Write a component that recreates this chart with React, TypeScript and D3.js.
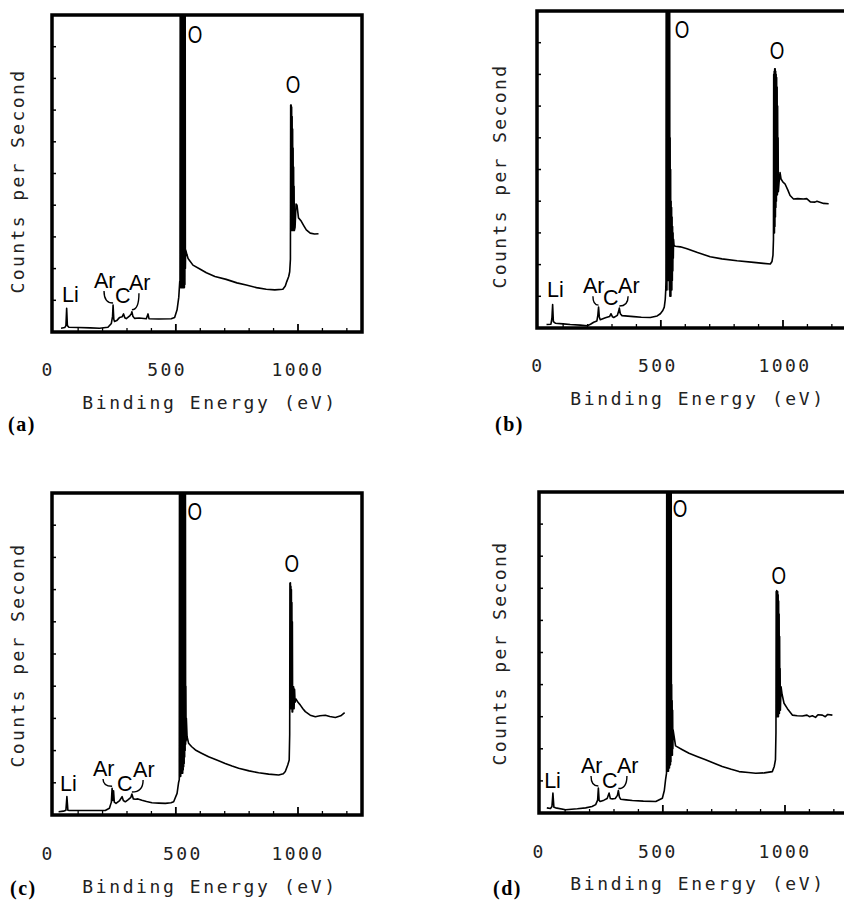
import React from 'react';
import * as d3 from 'd3';

type Pt = [number, number];
type Note = { text: string; ev: number; val: number; peak?: number };

// axis text
const tickTexts = ['0', '500', '1000'];
const xTitle = 'Binding Energy (eV)';
const yTitle = 'Counts per Second';
const panelLetters = ['(a)', '(b)', '(c)', '(d)'];
const minorTicks = [100, 200, 300, 400, 600, 700, 800, 900, 1100, 1200];
const majorTicks = [500, 1000];
const yTicks = [1, 2, 3, 4, 5, 6, 7, 8, 9];

// spectra: [binding energy eV, counts (0-10 of full scale)]
// the O peaks are saturated / noisy, so they are read as dense up-down samples
const spectrumA: Pt[] = [
  [30, 0.12], [45, 0.14], [50, 0.2], [53, 0.75], [56, 0.2], [62, 0.15], [100, 0.14], [150, 0.13],
  [188, 0.12], [222, 0.15], [236, 0.27], [241, 0.5], [243, 0.85], [246, 0.4], [249, 0.33], [258, 0.36],
  [270, 0.46], [280, 0.48], [286, 0.57], [291, 0.45], [297, 0.42], [310, 0.5], [318, 0.58], [320, 0.64],
  [324, 0.5], [331, 0.43], [350, 0.44], [379, 0.42], [386, 0.57], [390, 0.42], [430, 0.41], [481, 0.42],
  [495, 0.46], [505, 0.7], [512, 1.1], [516, 1.6],
  [517, 1.6], [518, 12], [519, 1.4], [520, 12], [521, 1.4], [522, 12], [523, 1.4], [524, 12],
  [525, 1.4], [526, 12], [527, 1.4], [528, 12], [529, 1.4], [530, 12], [531, 1.4], [532, 12],
  [533, 1.4], [534, 12], [535, 1.4], [536, 12], [537, 1.5], [538, 12], [539, 2.0], [540, 2.6],
  [545, 2.45], [550, 2.32], [570, 2.11], [600, 1.98], [625, 1.87], [660, 1.75], [706, 1.66], [750, 1.55],
  [788, 1.48], [830, 1.4], [870, 1.35], [905, 1.33], [938, 1.35], [948, 1.45], [954, 1.59], [962, 1.75],
  [966, 1.9], [969, 2.3], [970, 7.16], [971, 3.2], [972, 7.16], [973, 3.2], [974, 7.1], [975, 3.2],
  [976, 6.8], [977, 3.2], [978, 6.4], [979, 3.2], [980, 5.8], [981, 3.2], [982, 5.2], [983, 3.2],
  [984, 4.6], [985, 3.2], [988, 3.3], [992, 4.04], [996, 4.0], [1002, 3.6], [1013, 3.5], [1024, 3.35],
  [1034, 3.22], [1050, 3.12], [1068, 3.09], [1084, 3.1],
];

const spectrumB: Pt[] = [
  [32, 0.11], [50, 0.12], [54, 0.3], [57, 0.74], [60, 0.2], [68, 0.15], [100, 0.13], [129, 0.11],
  [170, 0.09], [198, 0.07], [212, 0.12], [225, 0.18], [238, 0.22], [242, 0.4], [245, 0.66], [248, 0.35],
  [252, 0.26], [273, 0.32], [290, 0.36], [296, 0.45], [302, 0.35], [307, 0.33], [322, 0.4], [328, 0.55],
  [330, 0.63], [334, 0.45], [341, 0.39], [389, 0.36], [420, 0.34], [457, 0.33], [485, 0.38], [498, 0.45],
  [508, 0.55], [514, 0.66], [518, 0.9], [520, 1.2],
  [521, 1.5], [522, 12], [523, 1.2], [524, 12], [525, 1.2], [526, 12], [527, 1.5], [528, 12],
  [529, 1.5], [530, 12], [531, 2.0], [532, 12], [533, 1.5], [534, 12], [535, 1.2], [536, 12],
  [537, 1.0], [538, 6], [539, 1.0], [540, 5], [541, 1.0], [542, 4], [543, 1.2], [544, 3.8],
  [545, 1.2], [546, 3.5], [547, 1.5], [548, 3.2], [549, 1.8], [550, 3.0], [551, 2.2], [552, 2.8],
  [554, 2.6], [559, 2.58], [580, 2.56], [607, 2.5], [650, 2.38],
  [702, 2.25], [750, 2.18], [812, 2.12], [880, 2.07], [920, 2.04], [948, 2.02], [955, 2.1], [959, 2.3],
  [961, 2.8], [962, 8.0], [963, 3.0], [964, 8.1], [965, 3.0], [966, 8.18], [967, 3.2], [968, 8.18],
  [969, 3.5], [970, 8.1], [971, 3.8], [972, 8.0], [973, 4.0], [974, 7.9], [975, 4.2], [976, 7.6],
  [977, 4.2], [978, 7.0], [979, 4.3], [980, 6.0], [981, 4.3], [984, 4.6], [988, 4.9], [992, 4.7],
  [1000, 4.6], [1008, 4.55], [1020, 4.35], [1029, 4.18], [1043, 4.07], [1060, 4.08], [1084, 4.07],
  [1097, 4.08], [1112, 3.98], [1131, 3.97], [1139, 4.0], [1166, 3.93], [1187, 3.92],
];

const spectrumC: Pt[] = [
  [20, 0.1], [40, 0.12], [50, 0.15], [54, 0.57], [58, 0.15], [64, 0.14], [129, 0.14], [211, 0.14],
  [228, 0.21], [236, 0.4], [239, 0.83], [242, 0.45], [245, 0.75], [248, 0.4], [255, 0.36], [270, 0.45],
  [280, 0.57], [285, 0.45], [293, 0.41], [305, 0.48], [316, 0.55], [320, 0.65], [326, 0.5], [334, 0.49],
  [345, 0.5], [361, 0.46], [380, 0.42], [402, 0.38], [430, 0.37], [457, 0.36], [480, 0.38], [491, 0.41],
  [505, 0.67], [511, 1.0],
  [514, 1.1], [515, 12], [516, 1.2], [517, 12], [518, 1.2], [519, 12], [520, 1.2], [521, 12],
  [522, 1.3], [523, 12], [524, 1.3], [525, 12], [526, 1.3], [527, 12], [528, 1.3], [529, 12],
  [530, 1.4], [531, 12], [532, 1.5], [533, 12], [534, 1.6], [535, 12], [536, 1.8], [537, 12],
  [538, 2.0], [539, 12], [540, 2.2], [541, 4], [542, 2.3], [543, 3],
  [546, 2.43], [552, 2.23], [565, 2.12], [580, 2.02], [605, 1.92], [634, 1.81], [670, 1.7],
  [702, 1.6], [730, 1.52], [757, 1.45], [800, 1.37], [839, 1.31], [880, 1.27], [921, 1.24], [940, 1.28],
  [948, 1.35], [958, 1.55], [964, 1.71], [966, 2.5], [967, 7.2], [968, 3.3], [969, 7.21], [970, 3.3],
  [971, 7.1], [972, 3.3], [973, 7.0], [974, 3.3], [975, 6.6], [976, 3.2], [977, 6.0], [978, 3.2],
  [980, 3.6], [982, 3.98], [984, 3.3], [986, 3.9], [988, 3.5], [992, 3.6],
  [1000, 3.5], [1009, 3.42], [1020, 3.3], [1030, 3.21], [1050, 3.1], [1071, 3.05], [1090, 3.08],
  [1112, 3.1], [1130, 3.06], [1153, 3.03], [1175, 3.08], [1191, 3.18],
];

const spectrumD: Pt[] = [
  [25, 0.16], [40, 0.14], [46, 0.2], [50, 0.62], [54, 0.18], [61, 0.16], [102, 0.1], [150, 0.13],
  [184, 0.16], [210, 0.2], [225, 0.26], [233, 0.4], [236, 0.78], [239, 0.4], [243, 0.36], [259, 0.4],
  [272, 0.45], [280, 0.62], [285, 0.45], [293, 0.44], [305, 0.45], [314, 0.55], [318, 0.7], [322, 0.5],
  [327, 0.43], [350, 0.41], [375, 0.39], [420, 0.37], [471, 0.36], [498, 0.46], [506, 0.7], [511, 1.03],
  [515, 1.24], [516, 12], [517, 1.3], [518, 12], [519, 1.3], [520, 12], [521, 1.3], [522, 12],
  [523, 1.3], [524, 12], [525, 1.4], [526, 12], [527, 1.4], [528, 12], [529, 1.5], [530, 12],
  [531, 1.5], [532, 12], [533, 1.6], [534, 12], [535, 1.8], [536, 4], [537, 1.8], [538, 3.5],
  [539, 1.8], [540, 3.2], [541, 2.0], [542, 2.59], [552, 2.09],
  [580, 1.97], [607, 1.86], [640, 1.76], [675, 1.66], [710, 1.55], [743, 1.45], [780, 1.36], [812, 1.29],
  [850, 1.26], [880, 1.24], [915, 1.25], [948, 1.29], [956, 1.45], [961, 1.66], [963, 2.5], [964, 6.9],
  [965, 3.0], [966, 6.93], [967, 3.0], [968, 6.9], [969, 3.0], [970, 6.9], [971, 3.0], [972, 6.8],
  [973, 3.0], [974, 6.6], [975, 3.1], [976, 6.2], [977, 3.1], [978, 5.5], [979, 3.2], [980, 4.5],
  [981, 3.2], [984, 3.93], [988, 3.7], [996, 3.42], [1010, 3.25], [1030, 3.05], [1050, 3.03],
  [1071, 3.02], [1090, 3.05], [1100, 3.0], [1112, 3.03], [1125, 2.98], [1135, 3.06], [1153, 3.05],
  [1165, 3.0], [1175, 3.07], [1194, 3.05],
];

// peak labels, placed in data units
const notesA: Note[] = [
  { text: 'Li', ev: 34, val: 0.95 }, { text: 'Ar', ev: 165, val: 1.39, peak: 243 },
  { text: 'C', ev: 251, val: 0.91 }, { text: 'Ar', ev: 308, val: 1.32, peak: 320 },
  { text: 'O', ev: 579, val: 9.12 }, { text: 'O', ev: 980, val: 7.54 },
];
const notesB: Note[] = [
  { text: 'Li', ev: 34, val: 0.98 }, { text: 'Ar', ev: 181, val: 1.1, peak: 245 },
  { text: 'C', ev: 263, val: 0.73 }, { text: 'Ar', ev: 325, val: 1.1, peak: 330 },
  { text: 'O', ev: 587, val: 9.15 }, { text: 'O', ev: 976, val: 8.49 },
];
const notesC: Note[] = [
  { text: 'Li', ev: 26, val: 0.75 }, { text: 'Ar', ev: 161, val: 1.21, peak: 239 },
  { text: 'C', ev: 259, val: 0.75 }, { text: 'Ar', ev: 325, val: 1.18, peak: 320 },
  { text: 'O', ev: 578, val: 9.16 }, { text: 'O', ev: 975, val: 7.55 },
];
const notesD: Note[] = [
  { text: 'Li', ev: 14, val: 0.78 }, { text: 'Ar', ev: 165, val: 1.25, peak: 236 },
  { text: 'C', ev: 251, val: 0.78 }, { text: 'Ar', ev: 312, val: 1.25, peak: 318 },
  { text: 'O', ev: 570, val: 9.22 }, { text: 'O', ev: 975, val: 7.13 },
];

// where the plotter put the tick numbers (eV)
const tickPosA = [-23, 464, 1000];
const tickPosB = [-3, 488, 1008];
const tickPosC = [-23, 529, 1000];
const tickPosD = [-7, 480, 1000];

const layout = [
  { left: 52, top: 15, bottom: 332, titleX: 210, titleY: 409, tickY: 376, ylabX: 23.5, ylabY: 181, letterX: 8, letterY: 431 },
  { left: 537, top: 11, bottom: 328, titleX: 698, titleY: 405, tickY: 372, ylabX: 506, ylabY: 176, letterX: 495, letterY: 431 },
  { left: 52, top: 493, bottom: 815, titleX: 210, titleY: 893, tickY: 860, ylabX: 24, ylabY: 655, letterX: 10, letterY: 895 },
  { left: 539, top: 492, bottom: 813, titleX: 698, titleY: 890, tickY: 858, ylabX: 506, ylabY: 653, letterX: 493, letterY: 895 },
];
const spectra = [spectrumA, spectrumB, spectrumC, spectrumD];
const notes = [notesA, notesB, notesC, notesD];
const tickPos = [tickPosA, tickPosB, tickPosC, tickPosD];

const W = 310;
const plotFont = '"DejaVu Sans Mono", monospace';
const labelFont = '"Liberation Sans", Arial, sans-serif';

const Panel = ({ i }: { i: number }) => {
  const L = layout[i];
  const data = spectra[i];
  const x = d3.scaleLinear().domain([-7, 1262]).range([L.left, L.left + W]);
  const y = d3.scaleLinear().domain([0, 10]).range([L.bottom, L.top]);
  const line = d3.line<Pt>().x((d) => x(d[0])).y((d) => y(d[1]));
  const clipId = `clip-${i}`;

  const peakTop = (ev: number) =>
    d3.max(data.filter((d) => Math.abs(d[0] - ev) <= 3), (d) => d[1]) ?? 0;

  return (
    <g>
      <defs>
        <clipPath id={clipId}>
          <rect x={L.left} y={L.top} width={W} height={L.bottom - L.top} />
        </clipPath>
      </defs>
      <path d={line(data) ?? ''} fill="none" stroke="#000" strokeWidth={1.6} strokeLinejoin="round" clipPath={`url(#${clipId})`} />

      {/* frame */}
      <rect x={L.left} y={L.top} width={W} height={L.bottom - L.top} fill="none" stroke="#000" strokeWidth={3.5} />
      {yTicks.map((t) => (
        <line key={`y${t}`} x1={L.left} x2={L.left + 4} y1={y(t)} y2={y(t)} stroke="#000" strokeWidth={1.5} />
      ))}
      {minorTicks.map((t) => (
        <line key={`m${t}`} x1={x(t)} x2={x(t)} y1={L.bottom} y2={L.bottom - 4} stroke="#000" strokeWidth={1.3} />
      ))}
      {majorTicks.map((t) => (
        <line key={`M${t}`} x1={x(t)} x2={x(t)} y1={L.bottom} y2={L.bottom - 8} stroke="#000" strokeWidth={1.8} />
      ))}

      {/* peak labels */}
      {notes[i].map((n, k) => {
        const px = x(n.ev);
        const py = y(n.val);
        if (n.text === 'O') {
          return (
            <text key={k} transform={`translate(${px},${py}) scale(0.78,1)`} textAnchor="middle" fontFamily={labelFont} fontSize={24} fill="#000">
              O
            </text>
          );
        }
        const hook = n.peak !== undefined
          ? (() => {
              const sx = px + 10;
              const sy = py + 3;
              const ex = x(n.peak as number);
              const ey = y(peakTop(n.peak as number)) - 2;
              return `M${sx},${sy} Q${sx},${ey} ${ex},${ey}`;
            })()
          : null;
        return (
          <g key={k}>
            <text x={px} y={py} fontFamily={labelFont} fontSize={21.5} fill="#000">{n.text}</text>
            {hook && <path d={hook} fill="none" stroke="#000" strokeWidth={1.4} />}
          </g>
        );
      })}

      {/* axis text */}
      {tickTexts.map((t, k) => (
        <text key={t} x={x(tickPos[i][k])} y={L.tickY} textAnchor="middle" fontFamily={plotFont} fontSize={18} letterSpacing={2.4} fill="#222">
          {t}
        </text>
      ))}
      <text x={L.titleX} y={L.titleY} textAnchor="middle" fontFamily={plotFont} fontSize={18} letterSpacing={2.6} fill="#222">
        {xTitle}
      </text>
      <text transform={`translate(${L.ylabX},${L.ylabY}) rotate(-90)`} textAnchor="middle" fontFamily={plotFont} fontSize={18} letterSpacing={2.4} fill="#222">
        {yTitle}
      </text>
      <text x={L.letterX} y={L.letterY} fontFamily='"Liberation Serif", "DejaVu Serif", serif' fontWeight="bold" fontSize={20} letterSpacing={1.5} fill="#000">
        {panelLetters[i]}
      </text>
    </g>
  );
};

export default function App() {
  return (
    <svg width={844} height={900} style={{ position: 'absolute', left: 0, top: 0, background: '#fff' }}>
      <rect width={844} height={900} fill="#fff" />
      {layout.map((_, i) => (
        <Panel key={i} i={i} />
      ))}
    </svg>
  );
}
